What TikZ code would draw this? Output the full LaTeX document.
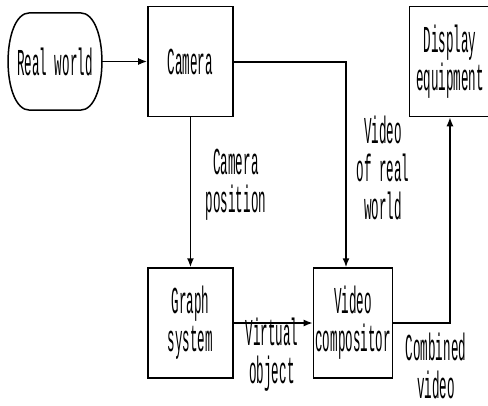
\documentclass[tikz,border=0pt]{standalone}
\usepackage{fontspec}
\newfontfamily\labelfont[FakeStretch=0.33]{Liberation Mono}
\usetikzlibrary{arrows.meta,positioning}

\begin{document}
\begin{tikzpicture}[x=1pt, y=-1pt, font=\labelfont\fontsize{38}{38}\selectfont,
  blockbox/.style={draw, line width=1.5pt, align=center, minimum width=85pt, minimum height=110pt, inner sep=2pt},
  termbox/.style={align=center, minimum width=94pt, minimum height=97pt, inner sep=0pt},
  lbl/.style={align=center, inner sep=0pt},
  arrow/.style={line width=1.6pt, -{Latex[length=9pt,width=7pt]}}]
\useasboundingbox (0,0) rectangle (488,405);
\node[termbox] (real) at (55,61.5) {Real world};
\draw[line width=1.5pt] ([xshift=22pt]real.north west) -- ([xshift=-22pt]real.north east)
  .. controls ([xshift=7pt]real.north east) and ([xshift=7pt]real.south east) .. ([xshift=-22pt]real.south east)
  -- ([xshift=22pt]real.south west)
  .. controls ([xshift=-7pt]real.south west) and ([xshift=-7pt]real.north west) .. cycle;
\node[blockbox, right=45pt of real] (camera) {Camera};
\node[blockbox, right=175pt of camera, minimum width=81pt] (display) {Display\\equipment};
\node[blockbox, below=150pt of camera] (graph) {Graph\\system};
\node[blockbox, right=79pt of graph, minimum width=77pt] (comp) {Video\\compositor};
\coordinate (vidturn) at (346,62);
\node[lbl] (camlbl) at (236,185) {Camera\\position};
\node[lbl] (vidlbl) at (383,168) {Video\\of real\\world};
\node[lbl] (virtlbl) at (272,355) {Virtual\\object};
\node[lbl] (comblbl) at (436,366) {Combined\\video};
\draw[arrow] (real) -- (camera);
\draw[arrow] (camera) -- (graph);
\draw[arrow] (camera.east |- vidturn) -- (vidturn) -- (vidturn |- comp.north);
\draw[arrow] (graph) -- (comp);
\draw[arrow] (comp.east) -| (display.south);
\end{tikzpicture}
\end{document}
